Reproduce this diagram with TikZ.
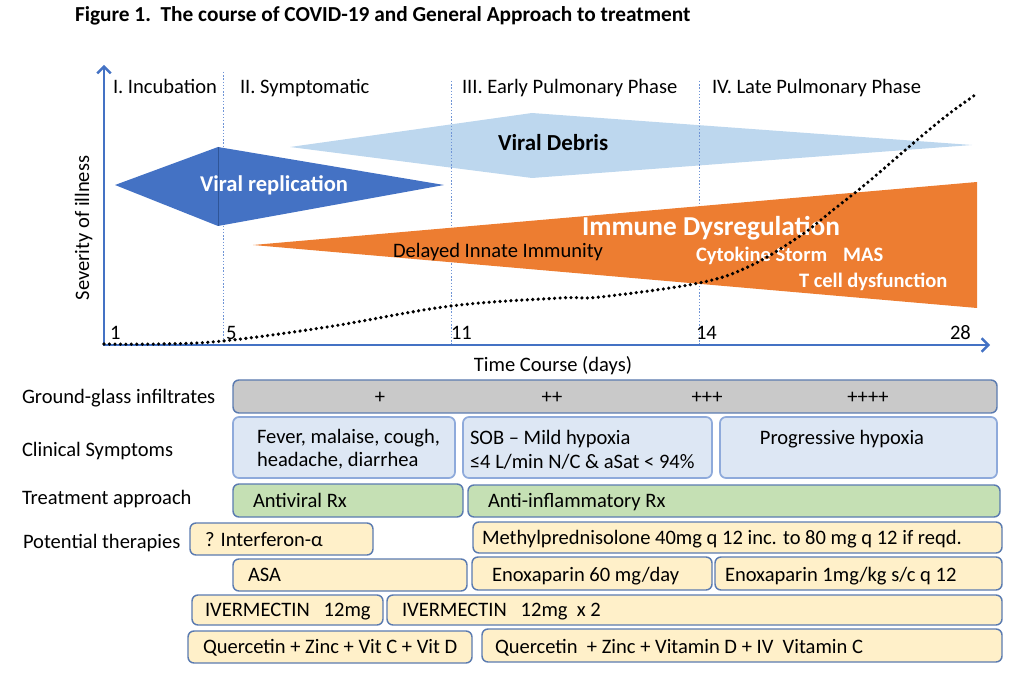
\documentclass[tikz,border=0pt]{standalone}
\usepackage{fontspec}
\setmainfont{Carlito}
\usetikzlibrary{arrows.meta}
\definecolor{axisblue}{HTML}{4472C4}
\definecolor{vrep}{HTML}{4472C4}
\definecolor{vrepline}{HTML}{2F5597}
\definecolor{debris}{HTML}{BDD7EE}
\definecolor{immune}{HTML}{ED7D31}
\definecolor{boxline}{HTML}{5B7BB0}
\definecolor{clinline}{HTML}{8EAADB}
\definecolor{grayfill}{HTML}{C9C9C9}
\definecolor{clinfill}{HTML}{DDE7F4}
\definecolor{greenfill}{HTML}{C5E0B4}
\definecolor{yellowfill}{HTML}{FFF0C9}
\definecolor{sepblue}{HTML}{6F94D6}
\begin{document}
\begin{tikzpicture}[x=0.75pt,y=-0.75pt,
  every node/.style={inner sep=0pt,outer sep=0pt},
  txt/.style={font=\fontsize{15.4pt}{18pt}\selectfont,anchor=mid west,yshift=-2.4pt},
  ctxt/.style={font=\fontsize{15.4pt}{18pt}\selectfont,anchor=mid,yshift=-2.4pt},
  bigb/.style={font=\fontsize{#1}{18pt}\selectfont\bfseries,anchor=mid west,yshift=-2.4pt},
  axisline/.style={draw=axisblue,line width=1.8pt},
  phaseline/.style={draw=sepblue,line width=0.75pt,dash pattern=on 1pt off 1.4pt},
  course/.style={draw=black,line width=2.7pt,line cap=round,dash pattern=on 0pt off 4.1pt},
  anybox/.style={rounded corners=4.5pt,line width=1.1pt},
  graybox/.style={anybox,fill=grayfill,draw=boxline},
  clinbox/.style={anybox,fill=clinfill,draw=clinline,line width=1.3pt},
  greenbox/.style={anybox,fill=greenfill,draw=boxline},
  ybox/.style={anybox,fill=yellowfill,draw=boxline}]
\useasboundingbox (0,0) rectangle (1011,677);

% title
\node[bigb=16pt] (title) at (75,15) {Figure 1.\ \ The course of COVID-19 and General Approach to treatment};

% phase labels
\node[txt] (ph1) at (113,87) {I. Incubation};
\node[txt] (ph2) at (240,87) {II. Symptomatic};
\node[txt] (ph3) at (462,87) {III. Early Pulmonary Phase};
\node[txt] (ph4) at (712,87) {IV. Late Pulmonary Phase};

% viral debris
\fill[debris] (290,147) -- (532,113) -- (972,145) -- (532,178) -- cycle;

% phase separators
\draw[phaseline] (223,72) -- (223,345);
\draw[phaseline] (451,81) -- (451,345);
\draw[phaseline] (699,81) -- (699,345);

% viral replication
\fill[vrep] (115,185) -- (218,147) -- (444,185) -- (218,226) -- cycle;
\draw[vrepline,line width=0.5pt] (218,147) -- (218,226);

% immune dysregulation
\fill[immune] (253,245) -- (977,182) -- (977,308) -- cycle;

% labels inside shapes
\node[bigb=16.9pt,text=white] (vreptxt) at (200,185) {Viral replication};
\node[bigb=17.2pt] (debristxt) at (498,144) {Viral Debris};
\node[bigb=20.5pt,text=white] (immunetxt) at (582,229) {Immune Dysregulation};
\node[txt] (delayed) at (393,251) {Delayed Innate Immunity};
\node[bigb=15.4pt,text=white] (cyto) at (696,255) {Cytokine Storm\hspace{12pt}MAS};
\node[bigb=15.4pt,text=white] (tcell) at (799,281) {T cell dysfunction};

% axes
\draw[axisline,{Straight Barb[length=5pt,width=10pt,line width=1.8pt]}-{Straight Barb[length=5pt,width=10pt,line width=1.8pt]}]
  (104,65) -- (104,345) -- (990,345);

% course of illness
\draw[course] plot[smooth,tension=0.6] coordinates {(104,344) (160,344) (223,341) (327,327) (451,306) (560,298) (600,297) (699,283) (750,266) (800,236) (833,210) (867,183) (917,140) (950,113) (978,93)};

% axis numbers
\node[txt] (d1) at (110,333) {1};
\node[txt] (d5) at (226,333) {5};
\node[txt] (d11) at (451,333) {11};
\node[txt] (d14) at (696,333) {14};
\node[txt] (d28) at (950,333) {28};
\node[ctxt] (xlabel) at (553,365) {Time Course (days)};
\node[font=\fontsize{15.4pt}{18pt}\selectfont,anchor=mid,rotate=90] (ylabel) at (86,228) {Severity of illness};

% row labels
\node[txt] (rgg) at (22,397) {Ground-glass infiltrates};
\node[txt] (rcs) at (22,450) {Clinical Symptoms};
\node[txt] (rta) at (22,498) {Treatment approach};
\node[txt] (rpt) at (23,542) {Potential therapies};

% ground glass
\draw[graybox] (233,380) rectangle (997,413);
\node[ctxt] (gg1) at (380,397) {+};
\node[ctxt] (gg2) at (552,397) {++};
\node[ctxt] (gg3) at (707,397) {+++};
\node[ctxt] (gg4) at (868,397) {++++};

% clinical symptoms
\draw[clinbox] (233,417) rectangle (455,478);
\draw[clinbox] (463,417) rectangle (712,478);
\draw[clinbox] (720,417) rectangle (997,478);
\node[txt] (cs1a) at (257,437) {Fever, malaise, cough,};
\node[txt] (cs1b) at (257,460) {headache, diarrhea};
\node[txt] (cs2a) at (470,438) {SOB -- Mild hypoxia};
\node[txt] (cs2b) at (470,462) {≤4 L/min N/C \& aSat < 94\%};
\node[ctxt] (cs3) at (842,438) {Progressive hypoxia};

% treatment approach
\draw[greenbox] (233,484) rectangle (463,517);
\draw[greenbox] (468,485) rectangle (1000,517);
\node[txt] (ta1) at (253,501) {Antiviral Rx};
\node[txt] (ta2) at (488,501) {Anti-inflammatory Rx};

% potential therapies
\draw[ybox] (190,523) rectangle (373,555);
\node[txt] (pt1) at (205,540) {? Interferon-α};
\draw[ybox] (473,522) rectangle (1002,553);
\node[txt] (pt2) at (482,538) {Methylprednisolone 40mg q 12 inc. to 80 mg q 12 if reqd.};
\draw[ybox] (233,559) rectangle (467,591);
\node[txt] (pt3) at (248,575) {ASA};
\draw[ybox] (472,557) rectangle (712,590);
\node[txt] (pt4) at (492,575) {Enoxaparin 60 mg/day};
\draw[ybox] (715,557) rectangle (1002,590);
\node[txt] (pt5) at (725,575) {Enoxaparin 1mg/kg s/c q 12};
\draw[ybox] (192,595) rectangle (383,625);
\node[txt] (pt6) at (205,610) {IVERMECTIN~~~12mg};
\draw[ybox] (387,595) rectangle (1002,625);
\node[txt] (pt7) at (402,610) {IVERMECTIN~~~12mg~~x 2};
\draw[ybox] (188,631) rectangle (472,663);
\node[txt] (pt8) at (203,647) {Quercetin + Zinc + Vit C + Vit D};
\draw[ybox] (482,629) rectangle (1002,662);
\node[txt] (pt9) at (495,647) {Quercetin~~+ Zinc + Vitamin D + IV~~Vitamin C};
\end{tikzpicture}
\end{document}
